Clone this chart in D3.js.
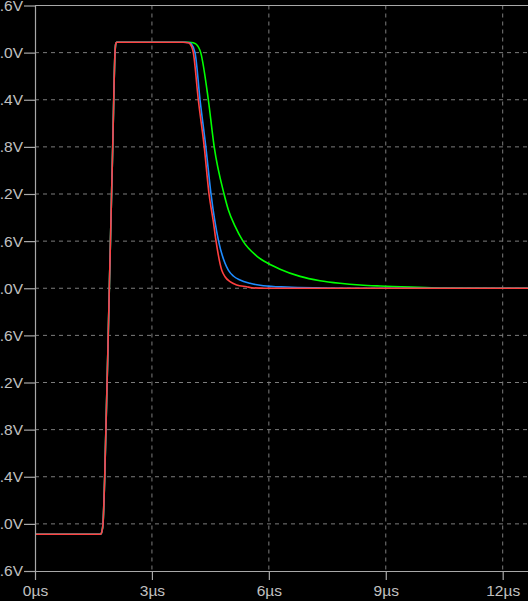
<!DOCTYPE html>
<html>
<head>
<meta charset="utf-8">
<script src="https://cdn.jsdelivr.net/npm/d3@7"></script>
<style>
  html, body { margin: 0; padding: 0; background: #000; }
  svg { display: block; }
</style>
</head>
<body>
<svg id="chart" width="528" height="601"></svg>
<script>
// ---- data (time in µs, voltage in V) ----
const yTickValues = [3.6, 3.0, 2.4, 1.8, 1.2, 0.6, 0.0, -0.6, -1.2, -1.8, -2.4, -3.0, -3.6];
const xTickValues = [0, 3, 6, 9, 12];

// common pulse rise (all three traces coincide)
const riseT = [0, 1.69, 1.715, 1.745, 1.789, 1.907, 1.994, 2.053, 2.072, 2.095];
const riseV = [-3.133, -3.133, -3.10, -3.0, -2.4, 0.0, 1.8, 3.0, 3.11, 3.133];

// red trace fall
const redFallT = [3.80, 3.93, 3.98, 4.062, 4.19, 4.342, 4.465, 4.575, 4.645, 4.79, 4.876, 5.004, 5.176, 5.432, 5.568, 5.9, 12.65];
const redFallV = [3.133, 3.125, 3.11, 3.0, 2.4, 1.8, 1.2, 0.85, 0.6, 0.232, 0.147, 0.083, 0.041, 0.019, 0.007, 0.0, 0.0];

// blue trace fall
const blueFallT = [3.85, 3.97, 4.01, 4.106, 4.234, 4.383, 4.516, 4.71, 4.876, 4.96, 5.089, 5.26, 5.517, 5.858, 6.459, 7.2, 8.0, 12.65];
const blueFallV = [3.133, 3.125, 3.11, 3.0, 2.4, 1.8, 1.2, 0.6, 0.318, 0.232, 0.156, 0.105, 0.063, 0.032, 0.015, 0.005, 0.0, 0.0];

// green trace fall
const greenFallT = [3.95, 4.06, 4.13, 4.252, 4.447, 4.598, 4.85, 4.96, 5.132, 5.337, 5.689, 5.986, 6.287, 6.8, 7.313, 7.827, 8.34, 8.853, 9.828, 10.5, 12.65];
const greenFallV = [3.133, 3.125, 3.11, 3.0, 2.4, 1.8, 1.2, 1.0, 0.79, 0.6, 0.41, 0.315, 0.243, 0.151, 0.096, 0.063, 0.041, 0.028, 0.012, 0.003, 0.0];

const seriesColors = { green: "#00ff00", blue: "#1e8cff", red: "#ff4040" };

// ---- build ----
function zipSeries(tA, vA) { return tA.map((t, i) => [t, vA[i]]); }
const rise = zipSeries(riseT, riseV);
const series = [
  { name: "green", pts: rise.concat(zipSeries(greenFallT, greenFallV)) },
  { name: "blue",  pts: rise.concat(zipSeries(blueFallT, blueFallV)) },
  { name: "red",   pts: rise.concat(zipSeries(redFallT, redFallV)) }
];

const W = 528, H = 601;
const plotLeft = 35, plotTop = 5.5, plotBottom = 571;
const x = d3.scaleLinear().domain([0, 12]).range([plotLeft, 502.7]);
const y = d3.scaleLinear().domain([-3.6, 3.6]).range([plotBottom, plotTop]);

const svg = d3.select("#chart");
svg.append("rect").attr("width", W).attr("height", H).attr("fill", "#000");

const axisColor = "#a8a8a8";
const gridColor = "#7c7c7c";
const textColor = "#c0c0c0";
const fontFamily = "'Liberation Sans', Arial, sans-serif";

// grid
const grid = svg.append("g");
grid.selectAll("line.h").data(yTickValues.filter(v => v !== 3.6 && v !== -3.6)).join("line")
  .attr("class", "h")
  .attr("x1", plotLeft).attr("x2", W)
  .attr("y1", d => y(d)).attr("y2", d => y(d))
  .attr("stroke", gridColor).attr("stroke-width", 1).attr("stroke-dasharray", "4,4");
grid.selectAll("line.v").data(xTickValues.filter(v => v !== 0)).join("line")
  .attr("class", "v")
  .attr("x1", d => x(d)).attr("x2", d => x(d))
  .attr("y1", plotTop).attr("y2", plotBottom)
  .attr("stroke", gridColor).attr("stroke-width", 1).attr("stroke-dasharray", "4,4");

// traces
const clip = svg.append("defs").append("clipPath").attr("id", "plotclip");
clip.append("rect").attr("x", plotLeft).attr("y", plotTop).attr("width", W - plotLeft).attr("height", plotBottom - plotTop);
const line = d3.line().x(d => x(d[0])).y(d => y(d[1])).curve(d3.curveMonotoneX);
const traces = svg.append("g").attr("clip-path", "url(#plotclip)");
series.forEach(s => {
  traces.append("path").datum(s.pts)
    .attr("d", line)
    .attr("fill", "none")
    .attr("stroke", seriesColors[s.name])
    .attr("stroke-width", 1.6)
    .attr("stroke-linejoin", "round");
});

// top frame line
svg.append("line").attr("x1", plotLeft).attr("x2", W).attr("y1", plotTop).attr("y2", plotTop)
  .attr("stroke", axisColor).attr("stroke-width", 1.2);

// y axis
const yAxis = d3.axisLeft(y).tickValues(yTickValues).tickSize(11).tickSizeOuter(0).tickPadding(1)
  .tickFormat(d => d.toFixed(1) + "V");
const gy = svg.append("g").attr("transform", `translate(${plotLeft},0)`).call(yAxis);
gy.select(".domain").attr("stroke", axisColor).attr("stroke-width", 1.2);
gy.selectAll(".tick line").attr("stroke", axisColor).attr("stroke-width", 1.2);
gy.selectAll(".tick text").attr("fill", textColor).style("font-family", fontFamily).style("font-size", "15.5px");

// x axis
const xAxis = d3.axisBottom(x).tickValues(xTickValues).tickSize(9).tickSizeOuter(0).tickPadding(5)
  .tickFormat(d => d + "µs");
const gx = svg.append("g").attr("transform", `translate(0,${plotBottom})`).call(xAxis);
gx.select(".domain").attr("d", `M${plotLeft},0.5H${W}`).attr("stroke", axisColor).attr("stroke-width", 1.2);
gx.selectAll(".tick line").attr("stroke", axisColor).attr("stroke-width", 1.2);
gx.selectAll(".tick text").attr("fill", textColor).style("font-family", fontFamily).style("font-size", "15.5px");
</script>
</body>
</html>
